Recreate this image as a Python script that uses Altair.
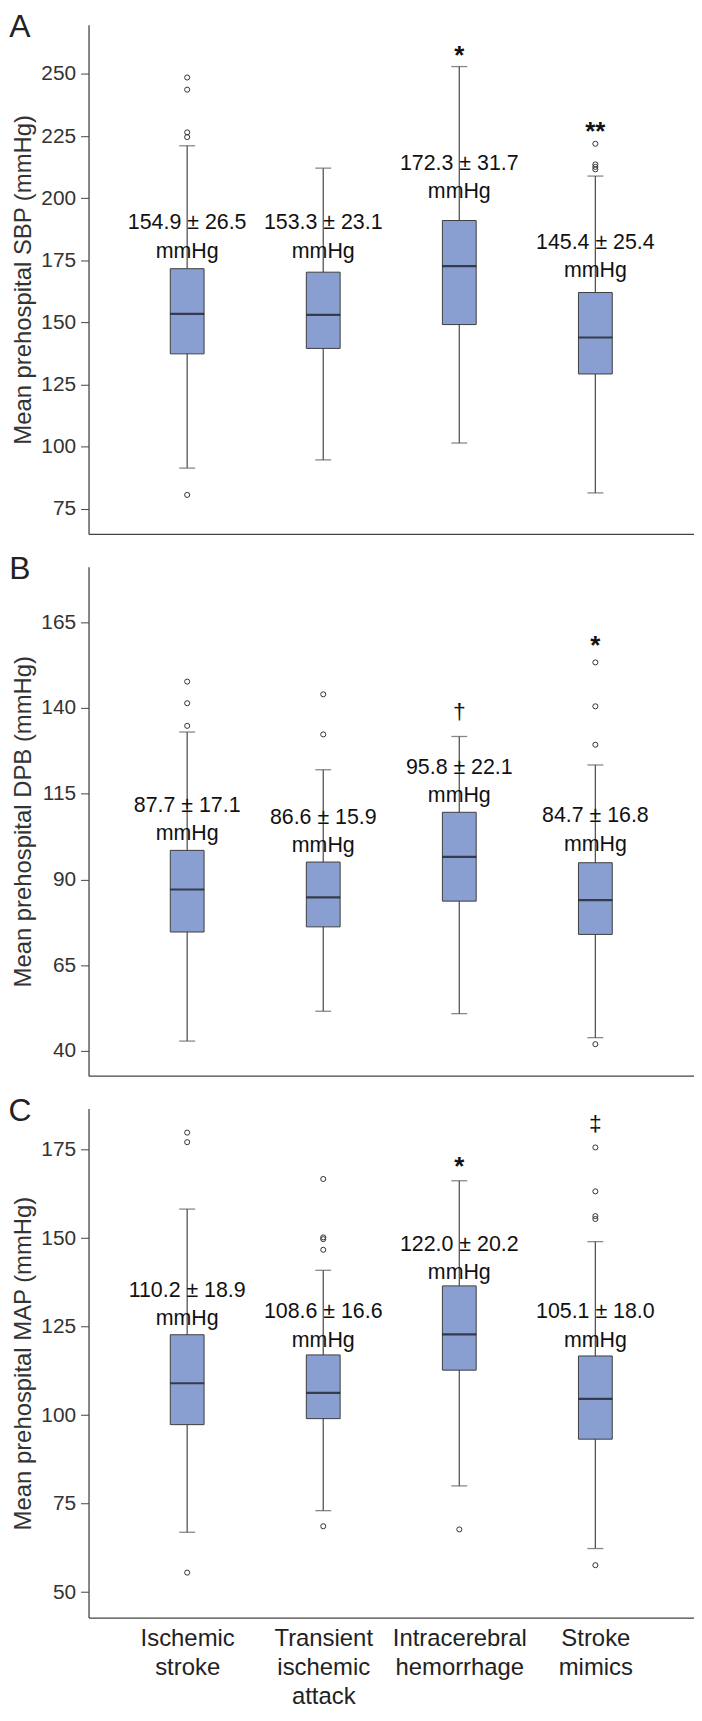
import altair as alt
import pandas as pd

FONT = "Liberation Sans"
BOX_FILL = "#8a9fd1"

CATS = ["Ischemic stroke", "Transient ischemic attack", "Intracerebral hemorrhage", "Stroke mimics"]

# Panel A: SBP
SBP_WLO = [91.3, 94.6, 101.4, 81.3]
SBP_Q1 = [137.3, 139.5, 149.1, 129.2]
SBP_MED = [153.4, 153.0, 172.6, 143.9]
SBP_Q3 = [171.6, 170.2, 191.0, 162.0]
SBP_WHI = [221.1, 212.1, 253.0, 208.9]
SBP_OUT_CAT = [0, 0, 0, 0, 0, 3, 3, 3, 3]
SBP_OUT_VAL = [248.6, 243.7, 226.5, 224.6, 80.5, 221.9, 213.6, 212.6, 211.6]
SBP_LAB_Y = [189.8, 189.8, 213.7, 182.0]
SBP_LAB_TXT = ["154.9 ± 26.5\nmmHg", "153.3 ± 23.1\nmmHg", "172.3 ± 31.7\nmmHg", "145.4 ± 25.4\nmmHg"]
SBP_SIG_CAT = [2, 3]
SBP_SIG_SYM = ["*", "**"]
SBP_SIG_Y = [260.0, 229.5]
SBP_TICKS = [75, 100, 125, 150, 175, 200, 225, 250]
SBP_DOMAIN = [64.8, 269.8]

# Panel B: DBP
DBP_WLO = [42.9, 51.6, 50.9, 43.9]
DBP_Q1 = [74.7, 76.2, 83.7, 74.0]
DBP_MED = [87.1, 84.8, 96.6, 84.0]
DBP_Q3 = [98.5, 95.1, 109.6, 94.9]
DBP_WHI = [133.0, 122.0, 131.7, 123.4]
DBP_OUT_CAT = [0, 0, 0, 1, 1, 3, 3, 3, 3]
DBP_OUT_VAL = [147.7, 141.4, 134.8, 144.0, 132.3, 153.3, 140.5, 129.3, 42.0]
DBP_LAB_Y = [111.5, 108.0, 122.5, 108.4]
DBP_LAB_TXT = ["87.7 ± 17.1\nmmHg", "86.6 ± 15.9\nmmHg", "95.8 ± 22.1\nmmHg", "84.7 ± 16.8\nmmHg"]
DBP_SIG_CAT = [2, 3]
DBP_SIG_SYM = ["†", "*"]
DBP_SIG_Y = [138.9, 160.1]
DBP_TICKS = [40, 65, 90, 115, 140, 165]
DBP_DOMAIN = [32.8, 181.2]

# Panel C: MAP
MAP_WLO = [66.9, 73.0, 80.0, 62.3]
MAP_Q1 = [97.3, 99.0, 112.7, 93.2]
MAP_MED = [109.0, 106.3, 122.8, 104.6]
MAP_Q3 = [122.7, 117.0, 136.5, 116.7]
MAP_WHI = [158.2, 140.9, 166.2, 149.0]
MAP_OUT_CAT = [0, 0, 0, 1, 1, 1, 1, 1, 2, 3, 3, 3, 3, 3]
MAP_OUT_VAL = [179.8, 177.1, 55.5, 166.7, 150.2, 149.7, 146.7, 68.6, 67.7, 175.6, 163.2, 156.2, 155.4, 57.6]
MAP_LAB_Y = [135.0, 129.0, 148.0, 129.0]
MAP_LAB_TXT = ["110.2 ± 18.9\nmmHg", "108.6 ± 16.6\nmmHg", "122.0 ± 20.2\nmmHg", "105.1 ± 18.0\nmmHg"]
MAP_SIG_CAT = [2, 3]
MAP_SIG_SYM = ["*", "‡"]
MAP_SIG_Y = [172.1, 182.1]
MAP_TICKS = [50, 75, 100, 125, 150, 175]
MAP_DOMAIN = [42.8, 186.6]

W = 609
H = 512


def panel(letter, ytitle, ticks, domain, wlo, q1, med, q3, whi,
          out_cat, out_val, lab_y, lab_txt, sig_cat, sig_sym, sig_y, show_labels):
    box = pd.DataFrame({"cat": CATS, "wlo": wlo, "q1": q1, "med": med, "q3": q3, "whi": whi})
    outs = pd.DataFrame({"cat": [CATS[i] for i in out_cat], "v": out_val})
    labs = pd.DataFrame({"cat": CATS, "y": lab_y, "t": lab_txt})
    sig = pd.DataFrame({"cat": [CATS[i] for i in sig_cat], "y": sig_y, "s": sig_sym})
    sig["star"] = sig["s"].str.contains(r"\*")

    if show_labels:
        xaxis = alt.Axis(title=None, ticks=False, labelAngle=0, labelFont=FONT,
                         labelFontSize=24, labelColor="#222", labelPadding=9,
                         labelLineHeight=29, labelBaseline="top",
                         labelExpr="split(datum.label, ' ')", domainColor="#444",
                         domainWidth=1.3)
    else:
        xaxis = alt.Axis(title=None, ticks=False, labels=False, domainColor="#444",
                         domainWidth=1.3)
    xs = alt.Scale(type="point", padding=0.725, domain=CATS)
    X = alt.X("cat:N", sort=CATS, scale=xs, axis=xaxis)

    ys = alt.Scale(domain=domain, nice=False, zero=False)
    yaxis = alt.Axis(title=ytitle, values=ticks, grid=False, titleX=-65, titleY=H / 2,
                     titleAngle=-90, titleAlign="center", titleBaseline="middle")

    def Y(f):
        return alt.Y(f, scale=ys, axis=yaxis)

    whisk = alt.Chart(box).mark_rule(color="#555", strokeWidth=1.3).encode(
        x=X, y=Y("wlo:Q"), y2="whi:Q")
    cap_lo = alt.Chart(box).mark_tick(color="#555", size=16, thickness=1.3).encode(
        x=X, y=Y("wlo:Q"))
    cap_hi = alt.Chart(box).mark_tick(color="#555", size=16, thickness=1.3).encode(
        x=X, y=Y("whi:Q"))
    bars = alt.Chart(box).mark_bar(size=34, fill=BOX_FILL, stroke="#3d3d3d",
                                   strokeWidth=1).encode(x=X, y=Y("q1:Q"), y2="q3:Q")
    meds = alt.Chart(box).mark_tick(color="#111", size=34, thickness=2.2).encode(
        x=X, y=Y("med:Q"))
    pts = alt.Chart(outs).mark_point(shape="circle", filled=False, size=26, color="#333",
                                     strokeWidth=1, opacity=1).encode(x=X, y=Y("v:Q"))
    texts = alt.Chart(labs).mark_text(font=FONT, fontSize=21.5, lineHeight=28.5,
                                      lineBreak="\n", baseline="middle", color="#111").encode(
        x=X, y=Y("y:Q"), text="t:N")
    stars = alt.Chart(sig).transform_filter("datum.star").mark_text(
        font=FONT, fontSize=26, fontWeight="bold", baseline="middle", dy=7, color="#111").encode(
        x=X, y=Y("y:Q"), text="s:N")
    daggers = alt.Chart(sig).transform_filter("!datum.star").mark_text(
        font=FONT, fontSize=23, baseline="middle", color="#111").encode(
        x=X, y=Y("y:Q"), text="s:N")
    let = alt.Chart(alt.Data(values=[{"t": letter}])).mark_text(
        font=FONT, fontSize=32, align="center", baseline="alphabetic", color="#222").encode(
        text="t:N", x=alt.value(-69), y=alt.value(12.5))

    return alt.layer(whisk, cap_lo, cap_hi, bars, meds, pts, texts, stars, daggers, let).properties(
        width=W, height=H)


pA = panel("A", "Mean prehospital SBP (mmHg)", SBP_TICKS, SBP_DOMAIN, SBP_WLO, SBP_Q1, SBP_MED,
           SBP_Q3, SBP_WHI, SBP_OUT_CAT, SBP_OUT_VAL, SBP_LAB_Y, SBP_LAB_TXT,
           SBP_SIG_CAT, SBP_SIG_SYM, SBP_SIG_Y, False)
pB = panel("B", "Mean prehospital DPB (mmHg)", DBP_TICKS, DBP_DOMAIN, DBP_WLO, DBP_Q1, DBP_MED,
           DBP_Q3, DBP_WHI, DBP_OUT_CAT, DBP_OUT_VAL, DBP_LAB_Y, DBP_LAB_TXT,
           DBP_SIG_CAT, DBP_SIG_SYM, DBP_SIG_Y, False)
pC = panel("C", "Mean prehospital MAP (mmHg)", MAP_TICKS, MAP_DOMAIN, MAP_WLO, MAP_Q1, MAP_MED,
           MAP_Q3, MAP_WHI, MAP_OUT_CAT, MAP_OUT_VAL, MAP_LAB_Y, MAP_LAB_TXT,
           MAP_SIG_CAT, MAP_SIG_SYM, MAP_SIG_Y, True)

chart = alt.vconcat(pA, pB, pC, spacing=33, bounds="flush").properties(
    padding={"left": 0, "right": 0, "top": -2, "bottom": -5},
    background="white",
).configure_view(strokeWidth=0).configure_axisY(
    labelFont=FONT, labelFontSize=21, labelColor="#333", tickColor="#444", tickSize=8,
    tickWidth=1, labelPadding=5, domainColor="#444", domainWidth=1.3,
    titleFont=FONT, titleFontSize=24, titleFontWeight="normal", titleColor="#333",
)

chart.save("out.html", embed_options={"renderer": "svg", "actions": False})
